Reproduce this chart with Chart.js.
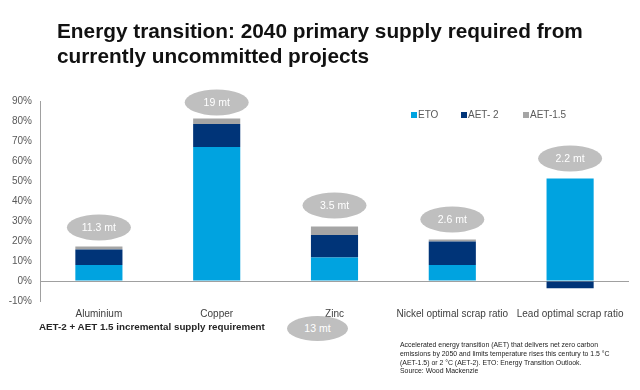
<!DOCTYPE html>
<html>
<head>
<meta charset="utf-8">
<script src="https://cdn.jsdelivr.net/npm/chart.js@4/dist/chart.umd.min.js"></script>
<style>
  html, body { margin: 0; padding: 0; background: #fff; }
  #wrap { position: relative; width: 640px; height: 390px; font-family: "Liberation Sans", Arial, sans-serif; }
  #chart { position: absolute; left: 0; top: 0; }
  .title { position: absolute; left: 57px; top: 18px; font-size: 20.8px; line-height: 25px; font-weight: bold; color: #111; white-space: nowrap; }
  .note { position: absolute; left: 39px; top: 321px; font-size: 9.8px; font-weight: bold; color: #262626; white-space: nowrap; }
  .pill { position: absolute; left: 287px; top: 316px; width: 61px; height: 25px; border-radius: 50%; background: #bfbfbf; color: #fff; font-size: 10.5px; line-height: 25px; text-align: center; }
  .foot { position: absolute; left: 400px; top: 341px; font-size: 6.9px; line-height: 8.8px; color: #222; white-space: nowrap; }
</style>
</head>
<body>
<div id="wrap">
  <canvas id="chart" width="640" height="390"></canvas>
  <div class="title">Energy transition: 2040 primary supply required from<br>currently uncommitted projects</div>
  <div class="note">AET-2 + AET 1.5 incremental supply requirement</div>
  <div class="pill">13 mt</div>
  <div class="foot">Accelerated energy transition (AET) that delivers net zero carbon<br>emissions by 2050 and limits temperature rises this century to 1.5 °C<br>(AET-1.5) or 2 °C  (AET-2). ETO: Energy Transition Outlook.<br>Source: Wood Mackenzie</div>
</div>
<script>
// категории и серии (в %)
const categories = ['Aluminium', 'Copper', 'Zinc', 'Nickel optimal scrap ratio', 'Lead optimal scrap ratio'];
const etoValues = [8, 67, 11.7, 8, 51.2];
const aet2Values = [7.8, 11.5, 11.3, 11.7, -3.6];
const aet15Values = [1.5, 2.8, 4.2, 1.1, 0];
const seriesNames = ['ETO', 'AET- 2', 'AET-1.5'];
const seriesColors = ['#00a3e0', '#003478', '#a5a5a5'];
const yTicks = [-10, 0, 10, 20, 30, 40, 50, 60, 70, 80, 90];

// подписи над столбцами (млн т) и уровень, на котором стоит овал
const bubbleLabels = ['11.3 mt', '19 mt', '3.5 mt', '2.6 mt', '2.2 mt'];
const bubbleLevels = [26.8, 89.3, 37.8, 30.8, 61.3];

const bubbles = {
    id: 'bubbles',
    afterDatasetsDraw(chart) {
        const { ctx, scales: { x, y } } = chart;
        ctx.save();
        bubbleLabels.forEach((txt, i) => {
            const cx = x.getPixelForValue(i);
            const cy = y.getPixelForValue(bubbleLevels[i]);
            ctx.beginPath();
            ctx.ellipse(cx, cy, 32, 13, 0, 0, Math.PI * 2);
            ctx.fillStyle = '#bfbfbf';
            ctx.fill();
            ctx.fillStyle = '#fff';
            ctx.font = '10.5px "Liberation Sans", Arial, sans-serif';
            ctx.textAlign = 'center';
            ctx.textBaseline = 'middle';
            ctx.fillText(txt, cx, cy + 0.5);
        });
        // легенда
        const lx = [411, 461, 523];
        ctx.font = '10px "Liberation Sans", Arial, sans-serif';
        ctx.textAlign = 'left';
        seriesNames.forEach((n, i) => {
            ctx.fillStyle = seriesColors[i];
            ctx.fillRect(lx[i], 112, 6, 6);
            ctx.fillStyle = '#595959';
            ctx.fillText(n, lx[i] + 7, 115.5);
        });
        ctx.restore();
    }
};

new Chart(document.getElementById('chart'), {
    type: 'bar',
    data: {
        labels: categories,
        datasets: [
            { label: seriesNames[0], data: etoValues, backgroundColor: seriesColors[0] },
            { label: seriesNames[1], data: aet2Values, backgroundColor: seriesColors[1] },
            { label: seriesNames[2], data: aet15Values, backgroundColor: seriesColors[2] }
        ]
    },
    options: {
        responsive: false,
        animation: false,
        barPercentage: 0.4,
        categoryPercentage: 1,
        layout: { padding: { top: 101, right: 11, bottom: 69, left: 0 } },
        plugins: { legend: { display: false }, tooltip: { enabled: false } },
        scales: {
            x: {
                stacked: true,
                grid: { display: false, drawTicks: false },
                border: { display: false },
                ticks: { color: '#404040', font: { size: 10, family: '"Liberation Sans", Arial' }, padding: 7, maxRotation: 0, autoSkip: false },
                afterFit(s) { s.height = 20; }
            },
            y: {
                stacked: true,
                min: -10,
                max: 90,
                afterBuildTicks(s) { s.ticks = yTicks.map(v => ({ value: v })); },
                grid: { color: c => c.tick && c.tick.value === 0 ? '#a0a0a0' : 'transparent', drawTicks: false },
                border: { display: true, color: '#a0a0a0' },
                ticks: { color: '#595959', font: { size: 10, family: '"Liberation Sans", Arial' }, padding: 8, callback: v => v + '%' },
                afterFit(s) { s.width = 40; }
            }
        }
    },
    plugins: [bubbles]
});
</script>
</body>
</html>
